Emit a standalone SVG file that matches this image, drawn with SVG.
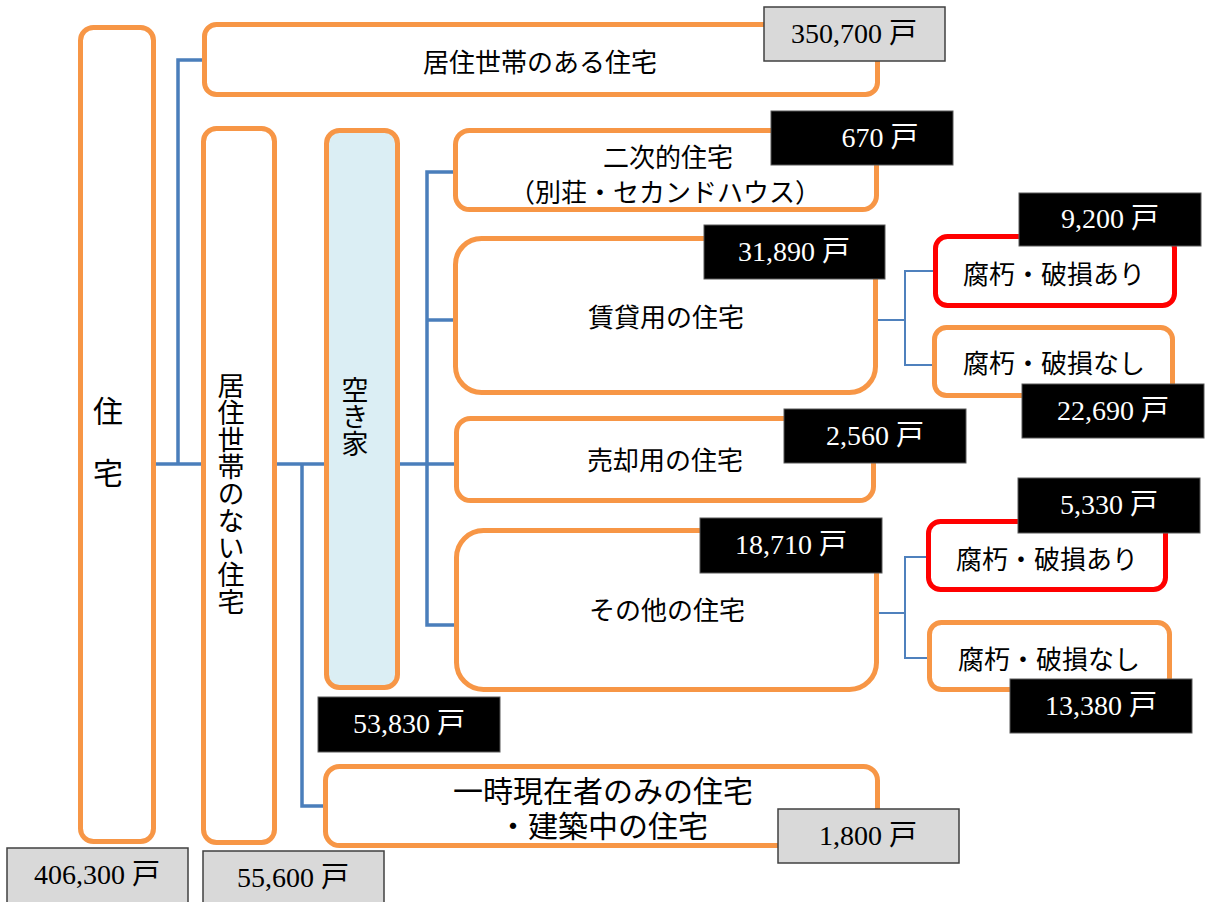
<svg xmlns="http://www.w3.org/2000/svg" width="1205" height="902" viewBox="0 0 1205 902">
<style>
.box{fill:#FFFFFF;stroke:#F79646;stroke-width:5}
.red{fill:#FFFFFF;stroke:#FF0000;stroke-width:5}
.akiya{fill:#DBEEF4;stroke:#F79646;stroke-width:5}
.lbl{font-family:"Noto Sans CJK JP","Noto Sans",sans-serif;font-size:26px;fill:#000000;text-anchor:middle;dominant-baseline:central}
.big{font-size:30px}
.vert{font-family:"Noto Sans CJK JP","Noto Sans",sans-serif;font-size:27px;fill:#000000;writing-mode:vertical-rl;text-anchor:start}
.num{font-family:"Liberation Serif","Noto Sans CJK JP",serif;font-size:28px;text-anchor:middle}
.gray rect{fill:#D9D9D9;stroke:#404040;stroke-width:1.5}
.gray text{fill:#000000}
.blk rect{fill:#000000;stroke:#595959;stroke-width:1}
.blk text{fill:#FFFFFF}
.main{fill:none;stroke:#4A7EBB;stroke-width:3.5}
.sub{fill:none;stroke:#4F81BD;stroke-width:2}
</style>
<rect width="1205" height="902" fill="#FFFFFF"/>
<g id="connectors">
<path class="main" d="M156,464 H204"/>
<path class="main" d="M204,60 H178 V464"/>
<path class="main" d="M277,464 H326"/>
<path class="main" d="M302,464 V806 H325"/>
<path class="main" d="M400,464 H457"/>
<path class="main" d="M456,172 H427 V625 H457"/>
<path class="main" d="M427,320 H456"/>
<path class="sub" d="M877,320 H905"/>
<path class="sub" d="M935,271 H905 V365 H934"/>
<path class="sub" d="M879,613 H905"/>
<path class="sub" d="M928,557 H905 V658 H929"/>
</g>
<g id="jutaku">
<rect class="box" x="80.5" y="27.5" width="73" height="814" rx="13"/>
<text class="vert" x="108" y="396" style="font-size:30px;letter-spacing:32px">住宅</text>
</g>
<g id="kyoju-aru">
<rect class="box" x="204.5" y="24.5" width="673" height="70" rx="12"/>
<text class="lbl" x="540" y="60">居住世帯のある住宅</text>
</g>
<g id="kyoju-nai">
<rect class="box" x="203.5" y="128.5" width="71" height="714" rx="13"/>
<text class="vert" x="231" y="372.5">居住世帯のない住宅</text>
</g>
<g id="akiya">
<rect class="akiya" x="326.5" y="130.5" width="71" height="557" rx="13"/>
<text class="vert" x="355" y="376.5">空き家</text>
</g>
<g id="niji">
<rect class="box" x="455.5" y="130.5" width="421" height="79" rx="14"/>
<text class="lbl" x="668" y="155">二次的住宅</text>
<text class="lbl" x="665" y="190">（別荘・セカンドハウス）</text>
</g>
<g id="chintai">
<rect class="box" x="455.5" y="238.5" width="420" height="154" rx="26"/>
<text class="lbl" x="666" y="315">賃貸用の住宅</text>
</g>
<g id="baikyaku">
<rect class="box" x="456.5" y="418.5" width="417" height="82" rx="14"/>
<text class="lbl" x="665" y="458">売却用の住宅</text>
</g>
<g id="sonota">
<rect class="box" x="456.5" y="530.5" width="420" height="159" rx="27"/>
<text class="lbl" x="667" y="608">その他の住宅</text>
</g>
<g id="ichiji">
<rect class="box" x="325.5" y="766.5" width="552" height="79" rx="14"/>
<text class="lbl big" x="603" y="789">一時現在者のみの住宅</text>
<text class="lbl big" x="603" y="824">・建築中の住宅</text>
</g>
<g id="fukyu-ari-1">
<rect class="red" x="935.5" y="236.5" width="239" height="69" rx="12"/>
<text class="lbl" x="1054" y="272">腐朽・破損あり</text>
</g>
<g id="fukyu-nashi-1">
<rect class="box" x="934.5" y="327.5" width="238" height="68" rx="12"/>
<text class="lbl" x="1054" y="361">腐朽・破損なし</text>
</g>
<g id="fukyu-ari-2">
<rect class="red" x="928.5" y="521.5" width="237" height="68" rx="12"/>
<text class="lbl" x="1047" y="557">腐朽・破損あり</text>
</g>
<g id="fukyu-nashi-2">
<rect class="box" x="929.5" y="622.5" width="240" height="67" rx="12"/>
<text class="lbl" x="1049" y="657">腐朽・破損なし</text>
</g>
<g id="n350700" class="gray">
<rect x="764" y="7" width="181" height="54"/>
<text class="num" x="854" y="43">350,700 戸</text>
</g>
<g id="n670" class="blk">
<rect x="771" y="111" width="182" height="54"/>
<text class="num" x="880" y="147">670 戸</text>
</g>
<g id="n31890" class="blk">
<rect x="704" y="225" width="181" height="54"/>
<text class="num" x="794" y="261">31,890 戸</text>
</g>
<g id="n9200" class="blk">
<rect x="1019" y="193" width="182" height="53"/>
<text class="num" x="1110" y="228">9,200 戸</text>
</g>
<g id="n22690" class="blk">
<rect x="1022" y="384" width="182" height="54"/>
<text class="num" x="1113" y="420">22,690 戸</text>
</g>
<g id="n2560" class="blk">
<rect x="784" y="409" width="182" height="54"/>
<text class="num" x="875" y="445">2,560 戸</text>
</g>
<g id="n18710" class="blk">
<rect x="700" y="518" width="182" height="55"/>
<text class="num" x="791" y="554">18,710 戸</text>
</g>
<g id="n5330" class="blk">
<rect x="1018" y="478" width="182" height="55"/>
<text class="num" x="1109" y="514">5,330 戸</text>
</g>
<g id="n13380" class="blk">
<rect x="1010" y="679" width="182" height="54"/>
<text class="num" x="1101" y="715">13,380 戸</text>
</g>
<g id="n53830" class="blk">
<rect x="318" y="697" width="182" height="55"/>
<text class="num" x="409" y="733">53,830 戸</text>
</g>
<g id="n1800" class="gray">
<rect x="778" y="809" width="181" height="54"/>
<text class="num" x="868" y="845">1,800 戸</text>
</g>
<g id="n406300" class="gray">
<rect x="7" y="848" width="181" height="56"/>
<text class="num" x="97" y="884">406,300 戸</text>
</g>
<g id="n55600" class="gray">
<rect x="203" y="851" width="181" height="54"/>
<text class="num" x="293" y="887">55,600 戸</text>
</g>
</svg>
